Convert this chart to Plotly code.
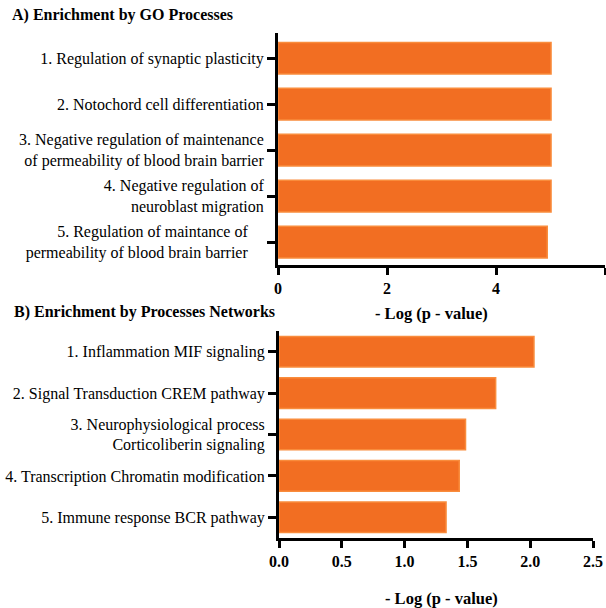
import plotly.graph_objects as go

go_terms = [
    "1. Regulation of synaptic plasticity",
    "2. Notochord cell differentiation",
    "3. Negative regulation of maintenance<br>of permeability of blood brain barrier",
    "4. Negative regulation of<br>neuroblast migration",
    "5. Regulation of maintance of\u00a0\u00a0\u00a0\u00a0<br>permeability of blood brain barrier\u00a0\u00a0\u00a0\u00a0",
]
go_values = [5.01, 5.01, 5.01, 5.01, 4.94]

net_terms = [
    "1. Inflammation MIF signaling",
    "2. Signal Transduction CREM pathway",
    "3. Neurophysiological process<br>Corticoliberin signaling",
    "4. Transcription Chromatin modification",
    "5. Immune response BCR pathway",
]
net_values = [2.03, 1.725, 1.485, 1.435, 1.33]

go_ticks = [0, 2, 4, 6]
net_ticks = [0.0, 0.5, 1.0, 1.5, 2.0, 2.5]

W, H = 606, 608
BAR = "#F26E22"
EDGE = "#F98C3C"
SERIF = "Liberation Serif, Times New Roman, serif"

def px_x(x):
    return x / W

def px_y(y):
    return 1 - y / H

fig = go.Figure()
fig.add_trace(go.Bar(x=go_values, y=go_terms, orientation="h", width=[0.69] * 5,
                     marker=dict(color=BAR, line=dict(color=EDGE, width=1.5)),
                     xaxis="x", yaxis="y", showlegend=False))
fig.add_trace(go.Bar(x=net_values, y=net_terms, orientation="h", width=[0.74] * 5,
                     marker=dict(color=BAR, line=dict(color=EDGE, width=1.5)),
                     xaxis="x2", yaxis="y2", showlegend=False))

axis_common = dict(showline=True, linecolor="black", linewidth=3, ticks="outside",
                   tickwidth=3, tickcolor="black", showgrid=False, zeroline=False,
                   automargin=False)

LBL = 16
TCK = 16

fig.update_layout(
    width=W, height=H, autosize=False,
    margin=dict(l=0, r=0, t=0, b=0, autoexpand=False),
    paper_bgcolor="white", plot_bgcolor="white",
    font=dict(family=SERIF, color="black"),
    xaxis=dict(domain=[px_x(278), px_x(605)], range=[0, 6], tickvals=go_ticks,
               ticktext=[str(t) for t in go_ticks], anchor="y", ticklen=7,
               tickfont=dict(family=SERIF, size=TCK, color="black", weight="bold"), **axis_common),
    yaxis=dict(domain=[px_y(265), px_y(33)], range=[4.5, -0.55], anchor="x",
               type="category", tickfont=dict(family=SERIF, size=LBL, color="black"),
               ticklen=8, **axis_common),
    xaxis2=dict(domain=[px_x(279), px_x(593)], range=[0, 2.5], tickvals=net_ticks,
                ticktext=["%.1f" % t for t in net_ticks], anchor="y2", ticklen=7,
                tickfont=dict(family=SERIF, size=TCK, color="black", weight="bold"), **axis_common),
    yaxis2=dict(domain=[px_y(538), px_y(331)], range=[4.5, -0.5], anchor="x2",
                type="category", tickfont=dict(family=SERIF, size=LBL, color="black"),
                ticklen=8, **axis_common),
)

fig.add_annotation(text="<b>A) Enrichment by GO Processes</b>", xref="paper", yref="paper",
                   x=px_x(10), y=px_y(15), xanchor="left", yanchor="middle", showarrow=False,
                   font=dict(family=SERIF, size=16, color="black"))
fig.add_annotation(text="<b>B) Enrichment by Processes Networks</b>", xref="paper", yref="paper",
                   x=px_x(12), y=px_y(312), xanchor="left", yanchor="middle", showarrow=False,
                   font=dict(family=SERIF, size=16, color="black"))
fig.add_annotation(text="<b>- Log (p - value)</b>", xref="paper", yref="paper",
                   x=px_x(431), y=px_y(313), xanchor="center", yanchor="middle", showarrow=False,
                   font=dict(family=SERIF, size=16.5, color="black"))
fig.add_annotation(text="<b>- Log (p - value)</b>", xref="paper", yref="paper",
                   x=px_x(441), y=px_y(598), xanchor="center", yanchor="middle", showarrow=False,
                   font=dict(family=SERIF, size=16.5, color="black"))

fig.write_html("out.html", config={"displayModeBar": False},
               post_script="document.body.style.margin='0';document.body.style.overflow='hidden';")
